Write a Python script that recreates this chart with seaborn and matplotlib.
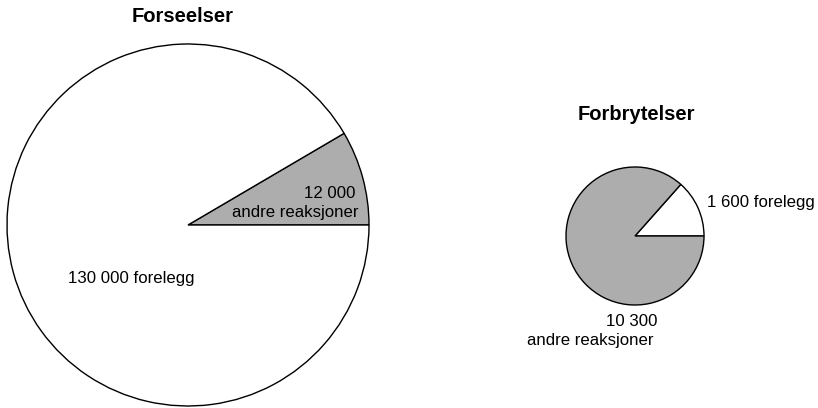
import matplotlib
matplotlib.use("Agg")
import matplotlib.pyplot as plt
import seaborn as sns

sns.set_theme(style="white")
plt.rcParams['font.family'] = ['Liberation Sans', 'DejaVu Sans']
plt.rcParams['text.color'] = 'black'

# Data
titles = ["Forseelser", "Forbrytelser"]
forseelser_values = [12000, 130000]        # andre reaksjoner, forelegg
forbrytelser_values = [1600, 10300]        # forelegg, andre reaksjoner
forseelser_labels = ["12 000", "andre reaksjoner", "130 000 forelegg"]
forbrytelser_labels = ["1 600 forelegg", "10 300", "andre reaksjoner"]

GREY = "#adadad"
W, H = 818, 408

fig = plt.figure(figsize=(W / 100, H / 100), dpi=100)
ax = fig.add_axes([0, 0, 1, 1])

wp = dict(edgecolor="black", linewidth=1.0)

# Left pie (Forseelser)
ax.pie(forseelser_values, colors=[GREY, "white"], startangle=0, counterclock=True,
       center=(188, H - 225), radius=181, wedgeprops=wp, frame=True)
# Right pie (Forbrytelser)
ax.pie(forbrytelser_values, colors=["white", GREY], startangle=0, counterclock=True,
       center=(635, H - 236), radius=69, wedgeprops=wp, frame=True)
ax.set_xlim(0, W)
ax.set_ylim(0, H)
ax.set_aspect("equal")
ax.axis("off")

fs = 12.1
ax.text(183, H - 17, titles[0], ha="center", va="center", fontsize=14.5, fontweight="bold")
ax.text(636, H - 115, titles[1], ha="center", va="center", fontsize=14.5, fontweight="bold")

ax.text(356, H - 193, forseelser_labels[0], ha="right", va="center", fontsize=fs)
ax.text(359, H - 213, forseelser_labels[1], ha="right", va="center", fontsize=fs)
ax.text(68, H - 278, forseelser_labels[2], ha="left", va="center", fontsize=fs)

ax.text(707, H - 202, forbrytelser_labels[0], ha="left", va="center", fontsize=fs)
ax.text(606, H - 322, forbrytelser_labels[1], ha="left", va="center", fontsize=fs)
ax.text(527, H - 340, forbrytelser_labels[2], ha="left", va="center", fontsize=fs)

fig.savefig("out.png", dpi=100, facecolor="white")
